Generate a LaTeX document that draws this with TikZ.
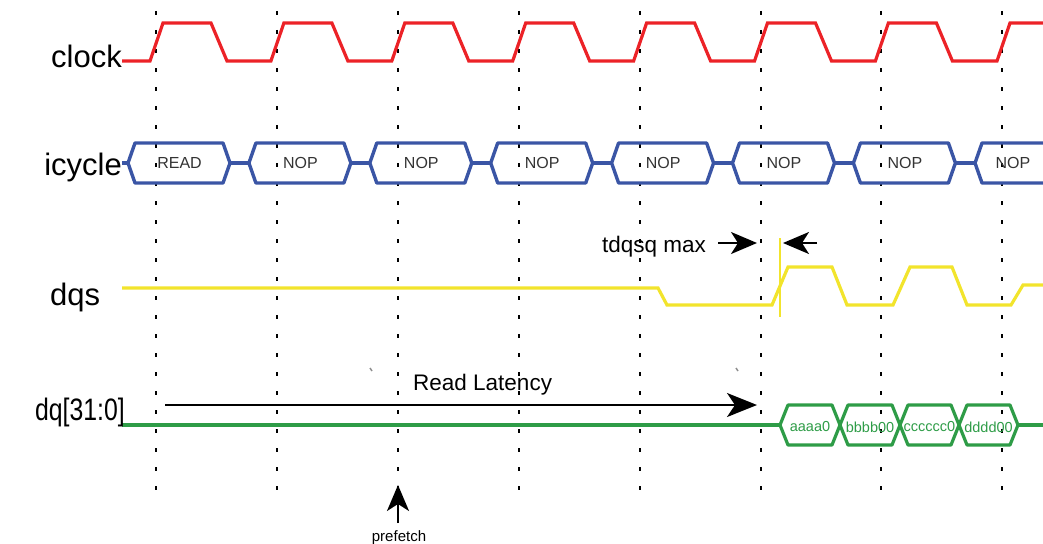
\documentclass[tikz,border=0pt]{standalone}
\usepackage{fontspec}
\setmainfont{Liberation Sans}
\usetikzlibrary{arrows.meta}
\definecolor{clkred}{HTML}{EC2227}
\definecolor{busblue}{HTML}{3A55A5}
\definecolor{strobe}{HTML}{F2E42C}
\definecolor{datagreen}{HTML}{2E9C47}
\definecolor{celltext}{HTML}{333333}
\tikzset{
  gridline/.style={line width=2pt, black, dash pattern=on 4pt off 15pt},
  clockwave/.style={line width=3.2pt, clkred},
  buswave/.style={line width=3.4pt, busblue},
  strobewave/.style={line width=3.2pt, strobe},
  datawave/.style={line width=3.2pt, datagreen},
  siglabel/.style={inner sep=0pt, font=\fontsize{31}{36}\selectfont},
  notelabel/.style={inner sep=0pt, font=\fontsize{22.5}{27}\selectfont},
  cyctext/.style={inner sep=0pt, text=celltext, font=\fontsize{16}{19}\selectfont},
  datatext/.style={inner sep=0pt, text=datagreen, font=\fontsize{14.5}{17}\selectfont},
  bigarrow/.style={line width=2pt, black, -{Stealth[length=30pt,width=24pt,inset=8pt]}},
  midarrow/.style={line width=2pt, black, -{Stealth[length=26pt,width=22pt,inset=7pt]}},
}
\begin{document}
\begin{tikzpicture}[x=1pt,y=-1pt]
\useasboundingbox (0,0) rectangle (1043,543);
\begin{scope}
\clip (0,0) rectangle (1043,543);

% clock-edge reference lines
\foreach \i [evaluate=\i as \x using 156+120.9*\i] in {0,...,7}
  \draw[gridline] (\x,11) -- (\x,492);

% clock
\draw[clockwave] (122,61)
  \foreach \i [evaluate=\i as \x using 156+120.9*\i] in {0,...,6}
    { -- (\x-6,61) -- (\x+7,23) -- (\x+55,23) -- (\x+71,61) }
  -- (997,61) -- (1010,23) -- (1043,23);

% command bus
\draw[buswave] (122,163) -- (128,163);
\foreach \i/\t [evaluate=\i as \x using 156+120.9*\i] in
    {0/READ,1/NOP,2/NOP,3/NOP,4/NOP,5/NOP,6/NOP} {
  \draw[buswave, line join=round] (\x-28,163) -- (\x-21,143) -- (\x+67,143) -- (\x+74,163)
    -- (\x+67,183) -- (\x-21,183) -- cycle;
  \draw[buswave] (\x+74,163) -- (\x+92.9,163);
  \node[cyctext] (cyc\i) at (\x+23.5,163) {\t};
}
\draw[buswave, line join=round] (1075,163) -- (1068,143) -- (982,143) -- (975,163)
  -- (982,183) -- (1068,183) -- cycle;
\node[cyctext] (cyc7) at (1013,163) {NOP};

% data strobe
\draw[strobewave] (122,288) -- (658,288) -- (667,305) -- (772,305) -- (788,267)
  -- (832,267) -- (847,305) -- (893,305) -- (910,267) -- (952,267) -- (967,305)
  -- (1011,305) -- (1023,285) -- (1043,285);
\draw[line width=2.5pt, strobe] (780,238) -- (780,317);

% data bus
\draw[datawave] (122,425) -- (780,425);
\foreach \a/\b/\t [evaluate=\a as \m using (\a+\b)/2] in
    {780/840/aaaa0, 840/900/bbbb00, 900/959/cccccc0, 959/1018/dddd00} {
  \draw[datawave, line join=round] (\a,425) -- (\a+8,405) -- (\b-8,405) -- (\b,425)
    -- (\b-8,445) -- (\a+8,445) -- cycle;
  \node[datatext] (d\a) at (\m,427) {\t};
}
\draw[datawave] (1018,425) -- (1043,425);
\end{scope}

% signal names
\node[siglabel, anchor=base east] (lclock) at (122,67) {clock};
\node[siglabel, anchor=base east] (licycle) at (122,175) {icycle};
\node[siglabel, anchor=base west] (ldqs) at (50,305) {dqs};
\node[siglabel, anchor=base east] (ldq) at (125,420) {\scalebox{0.8}[1]{dq[31:0]}};

% read latency
\node[notelabel, anchor=base west] (lat) at (413,390) {Read Latency};
\coordinate (latS) at (165,405);
\coordinate (latE) at (757,405);
\draw[bigarrow] (latS) -- (latE);

% tdqsq window
\node[notelabel, anchor=base west] (tdq) at (602,252) {tdqsq max};
\coordinate (tqA) at (718,243);
\coordinate (tqB) at (757,243);
\coordinate (tqC) at (817,243);
\coordinate (tqD) at (783,243);
\draw[midarrow] (tqA) -- (tqB);
\draw[midarrow] (tqC) -- (tqD);

% prefetch point
\node[inner sep=0pt, font=\fontsize{15}{18}\selectfont, anchor=base] (pf) at (399,541) {prefetch};
\coordinate (pfS) at (398,523);
\coordinate (pfE) at (398,485);
\draw[midarrow] (pfS) -- (pfE);

% small stray ticks above the latency label
\draw[line width=1.5pt, black!45] (370,368) -- (372,371);
\draw[line width=1.5pt, black!45] (736,368) -- (738,371);
\end{tikzpicture}
\end{document}
